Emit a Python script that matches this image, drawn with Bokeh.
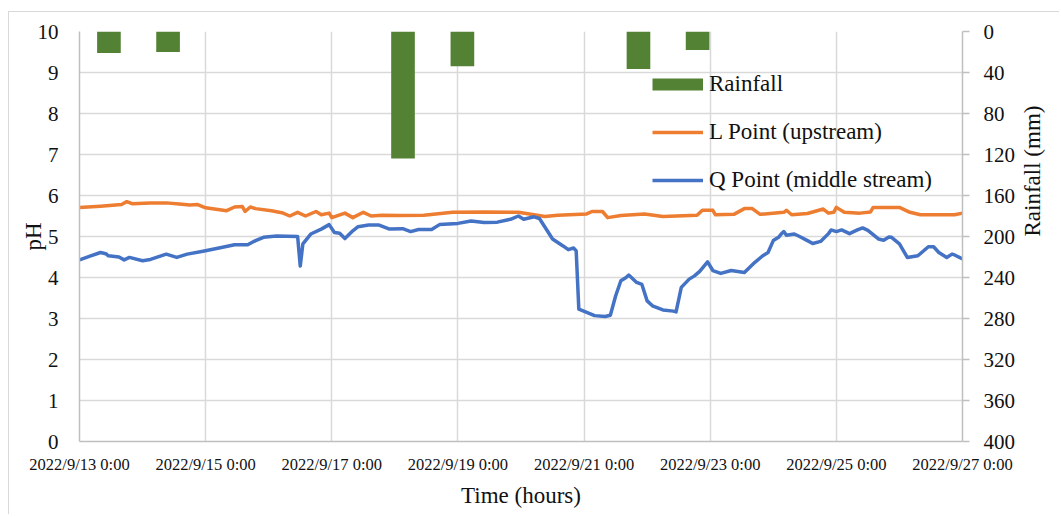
import math
from bokeh.plotting import figure
from bokeh.models import Range1d, LinearAxis, FixedTicker, Legend, LegendItem
from bokeh.embed import file_html
from bokeh.resources import INLINE

# ---- data (hours since 2022/9/13 0:00) ----
hours_L = [0, 8, 16, 18, 20, 27, 33, 38, 42, 45, 48, 56, 59, 62, 63, 65, 67, 73, 77, 80,
           83, 86, 90, 92, 95, 96, 101, 104, 108, 111, 115, 122, 131, 142, 154, 167, 173,
           177, 182, 193, 195, 199, 201, 206, 215, 222, 235, 237, 241, 242, 249, 253, 256,
           259, 268, 269, 271, 277, 283, 285, 287, 288, 291, 297, 301, 302, 312, 316, 320,
           333, 336]
ph_L = [5.71, 5.74, 5.78, 5.85, 5.80, 5.82, 5.82, 5.79, 5.77, 5.78, 5.70, 5.63, 5.72, 5.73,
        5.61, 5.72, 5.68, 5.63, 5.58, 5.50, 5.59, 5.50, 5.61, 5.53, 5.57, 5.46, 5.57, 5.46,
        5.59, 5.50, 5.52, 5.51, 5.52, 5.59, 5.60, 5.59, 5.53, 5.49, 5.52, 5.55, 5.61, 5.61,
        5.46, 5.51, 5.55, 5.49, 5.52, 5.64, 5.64, 5.53, 5.54, 5.68, 5.68, 5.54, 5.59, 5.64,
        5.53, 5.56, 5.67, 5.57, 5.59, 5.71, 5.59, 5.57, 5.60, 5.71, 5.71, 5.59, 5.53, 5.53,
        5.57]

hours_Q = [0, 4, 8, 10, 11, 15, 17, 19, 24, 27, 33, 37, 41, 47, 54, 59, 64, 67, 70, 75,
           83, 84, 85, 88, 92, 95, 97, 99, 101, 104, 106, 110, 114, 118, 123, 126, 129, 134,
           137, 144, 149, 154, 159, 164, 167, 169, 173, 175, 178, 180, 184, 186, 188, 189,
           190, 193, 196, 200, 202, 204, 206, 208, 209, 212, 214, 216, 218, 222, 226, 227,
           229, 232, 234, 236, 239, 241, 244, 248, 253, 257, 260, 262, 264, 266, 267, 268,
           269, 272, 274, 277, 279, 282, 285, 286, 288, 290, 293, 296, 298, 300, 304, 306,
           308, 309, 312, 315, 319, 323, 325, 327, 330, 332, 333, 336]
ph_Q = [4.43, 4.52, 4.61, 4.58, 4.53, 4.50, 4.43, 4.49, 4.41, 4.44, 4.57, 4.49, 4.57, 4.64,
        4.73, 4.80, 4.80, 4.90, 4.98, 5.01, 5.00, 4.28, 4.82, 5.06, 5.18, 5.29, 5.10, 5.08,
        4.95, 5.14, 5.24, 5.28, 5.28, 5.18, 5.19, 5.12, 5.17, 5.17, 5.29, 5.32, 5.38, 5.34,
        5.35, 5.42, 5.50, 5.42, 5.48, 5.44, 5.14, 4.94, 4.77, 4.68, 4.72, 4.65, 3.23, 3.15,
        3.07, 3.05, 3.08, 3.55, 3.92, 4.00, 4.06, 3.88, 3.83, 3.43, 3.31, 3.21, 3.18, 3.16,
        3.76, 3.96, 4.04, 4.15, 4.38, 4.17, 4.10, 4.17, 4.12, 4.37, 4.53, 4.61, 4.90, 4.98,
        5.06, 5.12, 5.03, 5.06, 5.00, 4.90, 4.83, 4.88, 5.07, 5.16, 5.12, 5.16, 5.07, 5.16,
        5.21, 5.15, 4.94, 4.91, 4.99, 4.98, 4.82, 4.49, 4.53, 4.75, 4.75, 4.61, 4.49, 4.57,
        4.55, 4.45]

rain_hours = [11.2, 33.7, 123.1, 145.7, 212.7, 235.2]
rain_mm = [21, 20, 124, 34, 36.5, 18]

time_ticks = [0, 48, 96, 144, 192, 240, 288, 336]
time_labels = ["2022/9/13 0:00", "2022/9/15 0:00", "2022/9/17 0:00", "2022/9/19 0:00",
               "2022/9/21 0:00", "2022/9/23 0:00", "2022/9/25 0:00", "2022/9/27 0:00"]
ph_ticks = [0, 1, 2, 3, 4, 5, 6, 7, 8, 9, 10]
rain_ticks = [0, 40, 80, 120, 160, 200, 240, 280, 320, 360, 400]

FONT = "Liberation Serif"
TXT = "#111111"
GRID = "#d9d9d9"
AXC = "#bfbfbf"
GREEN = "#548235"

p = figure(width=1051, height=503, x_range=Range1d(0, 336), y_range=Range1d(0, 10),
           output_backend="svg", toolbar_location=None,
           min_border_left=70, min_border_right=98, min_border_top=19, min_border_bottom=74)
p.outline_line_color = None
p.extra_y_ranges = {"rain": Range1d(400, 0)}

p.vbar(x=rain_hours, width=9, top=rain_mm, bottom=0, y_range_name="rain",
       fill_color=GREEN, line_color=None)
rL = p.line(hours_L, ph_L, line_color="#ED7D31", line_width=3.5, line_join="round")
rQ = p.line(hours_Q, ph_Q, line_color="#4472C4", line_width=3.5, line_join="round")
# legend swatch for the rainfall bars (a single NaN point draws nothing on the plot)
proxy = p.line([float("nan")], [float("nan")], line_color=GREEN, line_width=12)

# left axis
ya = p.yaxis[0]
ya.ticker = FixedTicker(ticks=ph_ticks)
ya.axis_label = "pH"
ya.major_tick_out = 0
ya.major_tick_in = 0
ya.minor_tick_out = 0
ya.minor_tick_in = 0
ya.major_label_standoff = 21
ya.axis_line_color = AXC
ya.axis_line_width = 1.5
ya.major_label_text_font = FONT
ya.major_label_text_font_size = "21px"
ya.major_label_text_color = TXT
ya.axis_label_text_font = FONT
ya.axis_label_text_font_size = "23px"
ya.axis_label_text_font_style = "normal"
ya.axis_label_text_color = TXT
ya.axis_label_standoff = -11

# bottom axis
xa = p.xaxis[0]
xa.ticker = FixedTicker(ticks=time_ticks)
xa.major_label_overrides = dict(zip(time_ticks, time_labels))
xa.axis_label = "Time (hours)"
xa.major_tick_out = 0
xa.major_tick_in = 0
xa.minor_tick_out = 0
xa.minor_tick_in = 0
xa.major_label_standoff = 13
xa.axis_line_color = AXC
xa.axis_line_width = 1.5
xa.major_label_text_font = FONT
xa.major_label_text_font_size = "16.5px"
xa.major_label_text_color = TXT
xa.axis_label_text_font = FONT
xa.axis_label_text_font_size = "23px"
xa.axis_label_text_font_style = "normal"
xa.axis_label_text_color = TXT
xa.axis_label_standoff = 6

# right axis
ra = LinearAxis(y_range_name="rain", ticker=FixedTicker(ticks=rain_ticks),
                axis_label="Rainfall (mm)")
ra.major_tick_out = 7
ra.major_tick_in = 0
ra.minor_tick_out = 0
ra.minor_tick_in = 0
ra.major_tick_line_color = AXC
ra.major_tick_line_width = 1.5
ra.major_label_standoff = 14
ra.major_label_text_align = "left"
ra.axis_line_color = AXC
ra.axis_line_width = 1.5
ra.major_label_text_font = FONT
ra.major_label_text_font_size = "21px"
ra.major_label_text_color = TXT
ra.axis_label_text_font = FONT
ra.axis_label_text_font_size = "23px"
ra.axis_label_text_font_style = "normal"
ra.axis_label_text_color = TXT
ra.axis_label_standoff = 14
ra.axis_label_orientation = -3 * math.pi / 2
p.add_layout(ra, "right")

p.xgrid.ticker = FixedTicker(ticks=time_ticks)
p.ygrid.ticker = FixedTicker(ticks=ph_ticks)
for g in (p.xgrid[0], p.ygrid[0]):
    g.grid_line_color = GRID
    g.grid_line_width = 1.5

leg = Legend(items=[LegendItem(label="Rainfall", renderers=[proxy]),
                    LegendItem(label="L Point (upstream)", renderers=[rL]),
                    LegendItem(label="Q Point (middle stream)", renderers=[rQ])],
             location=(573, 246))
leg.label_text_font = FONT
leg.label_text_font_size = "23px"
leg.label_text_color = TXT
leg.glyph_width = 51
leg.glyph_height = 30
leg.label_height = 30
leg.spacing = 18
leg.padding = 0
leg.margin = 0
leg.label_standoff = 6
leg.border_line_color = None
leg.background_fill_alpha = 0
p.add_layout(leg)

p.styles = {"margin-left": "8px", "margin-top": "11px",
            "border-top": "1px solid #d9d9d9", "border-left": "1px solid #d9d9d9"}

open("out.html", "w").write(file_html(p, INLINE))
